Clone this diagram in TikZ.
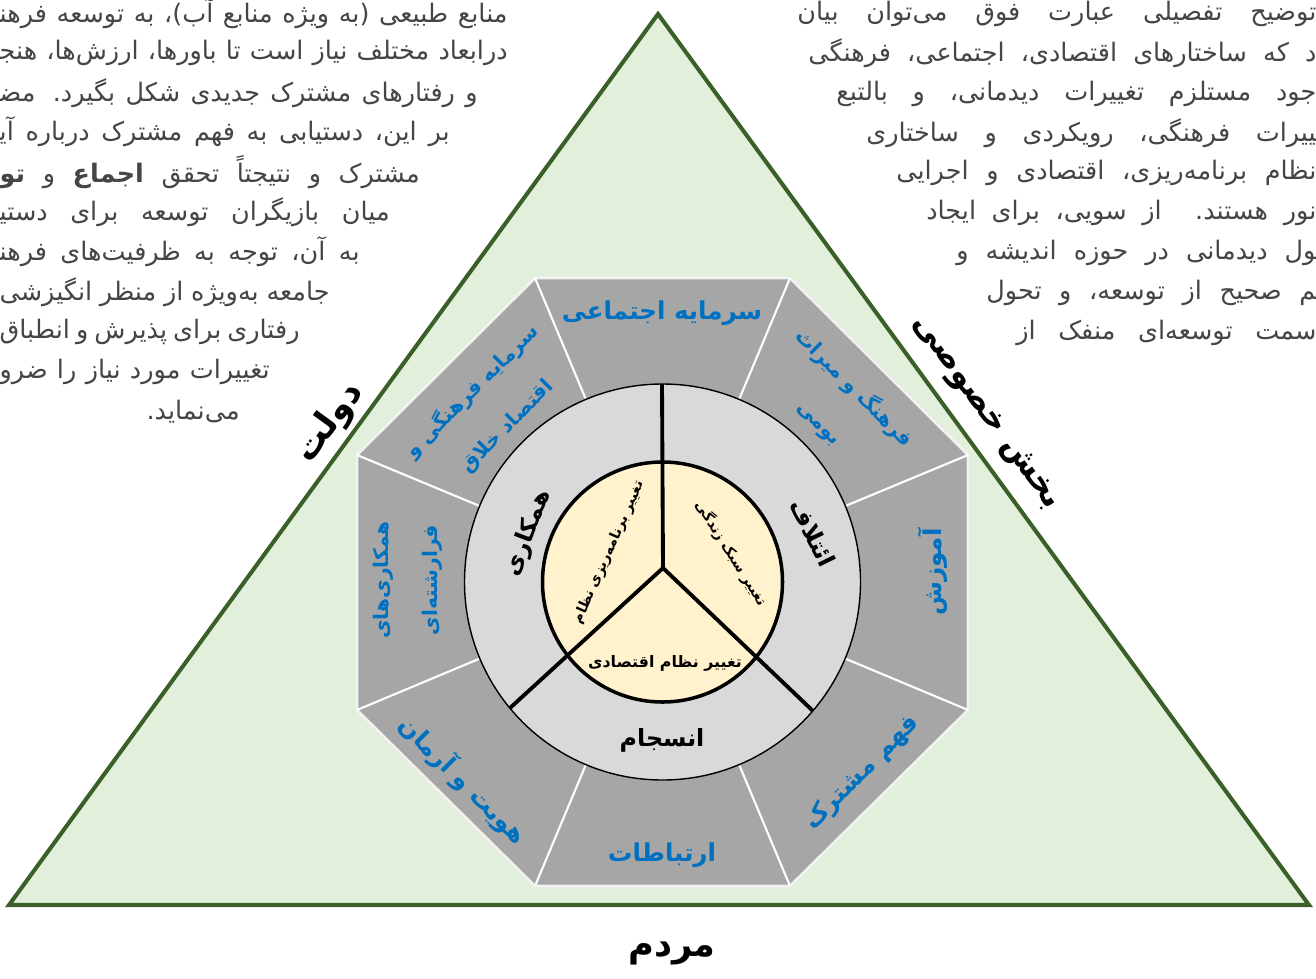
\documentclass[tikz,border=0pt]{standalone}
\usepackage{fontspec}
\newfontfamily\arabicfont[Script=Arabic]{DejaVu Sans}
\TeXXeTstate=1
\definecolor{leaf}{HTML}{E2EFDA}
\definecolor{leafline}{HTML}{3A5F28}
\definecolor{segfill}{HTML}{A6A6A6}
\definecolor{segedge}{HTML}{F2F2F2}
\definecolor{ringfill}{HTML}{D9D9D9}
\definecolor{corefill}{HTML}{FFF2CC}
\definecolor{segblue}{HTML}{0070C0}
\definecolor{bodygray}{HTML}{454545}
\newlength{\pxu}
\setlength{\pxu}{0.02cm}
\newcommand{\zj}{\char"200D\relax}
\tikzset{
  seg/.style={text=segblue, font=\arabicfont\bfseries\fontsize{14}{28}\selectfont, align=center, inner sep=0pt},
  segtwo/.style={seg, font=\arabicfont\bfseries\fontsize{11.5}{28}\selectfont},
  ring/.style={font=\arabicfont\bfseries\fontsize{13.5}{15}\selectfont, inner sep=0pt},
  core/.style={font=\arabicfont\bfseries\fontsize{8}{9}\selectfont, inner sep=0pt},
  side/.style={font=\arabicfont\bfseries\fontsize{20}{24}\selectfont, inner sep=0pt},
  body/.style={text=bodygray, font=\arabicfont\fontsize{14.5}{17}\selectfont, inner sep=0pt},
  sep/.style={white, line width=1.2pt}
}
% lines of the page text that wraps round the figure
\newcommand{\wrapL}[4]{\node[body, anchor=east] (#1) at (#2,#3) {\makebox[#2\pxu][s]{#4}};}
\newcommand{\wrapR}[4]{\node[body, anchor=west] (#1) at (#2,#3) {\makebox[\dimexpr1316\pxu-#2\pxu\relax][s]{#4}};}

\begin{document}
\begin{tikzpicture}[x=0.02cm, y=-0.02cm]
  \useasboundingbox (0,0) rectangle (1316,978);
  \clip (0,0) rectangle (1316,978);

  % page text, left
  \wrapL{l1}{508}{14}{\beginR منابع طبیعی (به ویژه منابع آب)، به توسعه فرهن\zj\endR}
  \wrapL{l2}{508}{53}{\beginR درابعاد مختلف نیاز است تا باورها، ارزش‌ها، هنج\zj\endR}
  \wrapL{l3}{478}{93}{\beginR و رفتارهای مشترک جدیدی شکل بگیرد. مض\zj\endR}
  \wrapL{l4}{450}{132}{\beginR بر این، دستیابی به فهم مشترک درباره آی\zj\endR}
  \wrapL{l5}{420}{172}{\beginR مشترک و نتیجتاً تحقق {\bfseries اجماع} و {\bfseries تو}\endR}
  \wrapL{l6}{390}{212}{\beginR میان بازیگران توسعه برای دستی\zj\endR}
  \wrapL{l7}{360}{252}{\beginR به آن، توجه به ظرفیت‌های فرهن\zj\endR}
  \wrapL{l8}{330}{292}{\beginR جامعه به‌ویژه از منظر انگیزشی\endR}
  \wrapL{l9}{300}{332}{\beginR رفتاری برای پذیرش و انطباق\endR}
  \wrapL{l10}{270}{372}{\beginR تغییرات مورد نیاز را ضرو\endR}
  \node[body, anchor=east] (l11) at (240,412) {\beginR می‌نماید.\endR};

  % page text, right
  \wrapR{r1}{797}{14}{\beginR توضیح تفصیلی عبارت فوق می‌توان بیان\endR}
  \wrapR{r2}{808}{53}{\beginR د که ساختارهای اقتصادی، اجتماعی، فرهنگی\endR}
  \wrapR{r3}{836}{94}{\beginR جود مستلزم تغییرات دیدمانی، و بالتبع\endR}
  \wrapR{r4}{866}{133}{\beginR \zj ییرات فرهنگی، رویکردی و ساختاری\endR}
  \wrapR{r5}{896}{173}{\beginR نظام برنامه‌ریزی، اقتصادی و اجرایی\endR}
  \wrapR{r6}{926}{213}{\beginR نور هستند. از سویی، برای ایجاد\endR}
  \wrapR{r7}{956}{253}{\beginR \zj ول دیدمانی در حوزه اندیشه و\endR}
  \wrapR{r8}{986}{293}{\beginR \zj م صحیح از توسعه، و تحول\endR}
  \wrapR{r9}{1016}{333}{\beginR سمت توسعه‌ای منفک از\endR}

  % triangle
  \coordinate (apex) at (658,14);
  \coordinate (bl) at (9,905);
  \coordinate (br) at (1309,905);
  \draw[leafline, fill=leaf, line width=2.3pt] (apex) -- (bl) -- (br) -- cycle;

  % octagon and its eight sectors
  \coordinate (c) at (662.5,582);
  \foreach \i/\x/\y in {1/535/278, 2/790/278, 3/968/455, 4/968/710,
                        5/790/886, 6/535/886, 7/357/710, 8/357/455}
    \coordinate (o\i) at (\x,\y);
  \draw[segedge, fill=segfill, line width=1.5pt] (o1) -- (o2) -- (o3) -- (o4) -- (o5) -- (o6) -- (o7) -- (o8) -- cycle;
  \foreach \i in {1,...,8}
    \draw[sep] (o\i) -- (c);

  % ring and core
  \draw[fill=ringfill, line width=0.8pt] (c) circle (198);
  \draw[fill=corefill, line width=2pt] (c) circle (120);
  \coordinate (hub) at (663,568);
  \coordinate (yup) at (662,384);
  \coordinate (yl) at (510,708);
  \coordinate (yr) at (813,711);
  \draw[line width=2.2pt] (hub) -- (yup) (hub) -- (yl) (hub) -- (yr);

  % sector labels
  \node[seg] (sTop) at (662,313) {\beginR سرمایه اجتماعی\endR};
  \node[segtwo, rotate=-45] (sUR) at (837,405) {\beginR فرهنگ و میراث\endR\\\beginR بومی\endR};
  \node[seg, rotate=90] (sR) at (933,572) {\beginR آموزش\endR};
  \node[seg, rotate=45] (sLR) at (862,773) {\beginR فهم مشترک\endR};
  \node[seg] (sB) at (662,855) {\beginR ارتباطات\endR};
  \node[seg, rotate=-45] (sLL) at (463,780) {\beginR هویت و آرمان\endR};
  \node[segtwo, rotate=90] (sL) at (408,580) {\beginR همکاری‌های\endR\\\beginR فرارشته‌ای\endR};
  \node[segtwo, rotate=45] (sUL) at (489,408) {\beginR سرمایه فرهنگی و\endR\\\beginR اقتصاد خلاق\endR};

  % ring labels
  \node[ring, rotate=69] (rL) at (528,533) {\beginR همکاری\endR};
  \node[ring, rotate=-64] (rR) at (813,533) {\beginR ائتلاف\endR};
  \node[ring] (rB) at (662,740) {\beginR انسجام\endR};

  % core labels
  \node[core, rotate=66] (cL) at (609,552) {\beginR تغییر برنامه‌ریزی نظام\endR};
  \node[core, rotate=-58] (cR) at (731,553) {\beginR تغییر سبک زندگی\endR};
  \node[core, font=\arabicfont\bfseries\fontsize{9}{10}\selectfont] (cB) at (665,663) {\beginR تغییر نظام اقتصادی\endR};

  % sides of the triangle
  \node[side, rotate=54] (tL) at (330,423) {\beginR دولت\endR};
  \node[side, rotate=-54, font=\arabicfont\bfseries\fontsize{18.5}{22}\selectfont] (tR) at (985,413) {\beginR بخش خصوصی\endR};
  \node[side] (tB) at (672,953) {\beginR مردم\endR};
\end{tikzpicture}
\end{document}
